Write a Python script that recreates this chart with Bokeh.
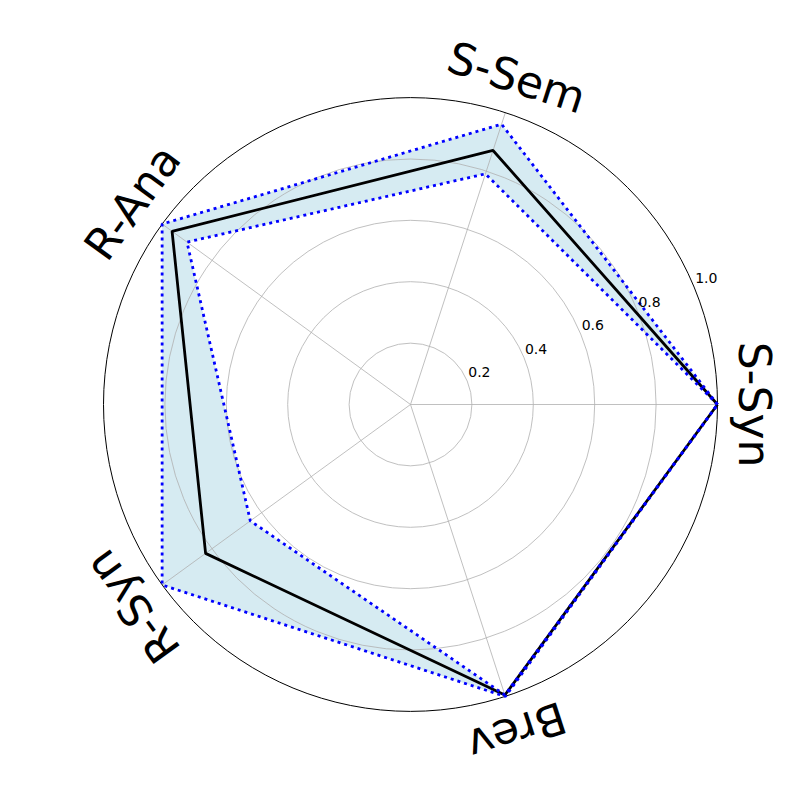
import numpy as np
from bokeh.plotting import figure
from bokeh.models import Range1d
from bokeh.embed import file_html
from bokeh.resources import INLINE
from bokeh.core.properties import value

# ---- data ----
categories = ["S-Syn", "S-Sem", "R-Ana", "R-Syn", "Brev"]
mean_vals = [1.0, 0.87, 0.96, 0.825, 0.995]
lower_vals = [1.0, 0.79, 0.90, 0.645, 0.995]
upper_vals = [1.0, 0.96, 1.0, 1.0, 1.0]
r_ticks = [0.2, 0.4, 0.6, 0.8, 1.0]
r_tick_labels = ["0.2", "0.4", "0.6", "0.8", "1.0"]

# ---- geometry ----
W, H = 784, 784
cx, cy = 410, 404      # centre in canvas px
scale = 307.0          # px per unit radius
n = len(categories)
theta = np.arange(n) * 2 * np.pi / n


def to_xy(vals, closed=True):
    v = np.asarray(vals, dtype=float)
    x = v * np.cos(theta)
    y = v * np.sin(theta)
    if closed:
        x = np.append(x, x[0])
        y = np.append(y, y[0])
    return list(x), list(y)


p = figure(width=W, height=H,
           x_range=Range1d(-cx / scale, (W - cx) / scale),
           y_range=Range1d(-(H - cy) / scale, cy / scale),
           output_backend="svg", toolbar_location=None, min_border=0,
           x_axis_location=None, y_axis_location=None)
p.xgrid.visible = False
p.ygrid.visible = False
p.outline_line_color = None
p.background_fill_color = "white"
p.border_fill_color = "white"

# band between lower and upper
ux, uy = to_xy(upper_vals, closed=False)
lx, ly = to_xy(lower_vals, closed=False)
p.multi_polygons(xs=[[[ux, lx]]], ys=[[[uy, ly]]],
                 fill_color="lightblue", fill_alpha=0.5, line_color=None)

# grid circles
p.circle(x=[0] * 4, y=[0] * 4, radius=r_ticks[:-1], fill_color=None,
         line_color="#b0b0b0", line_width=0.8)
# spokes
for t in theta:
    p.line([0, np.cos(t)], [0, np.sin(t)], line_color="#b0b0b0", line_width=0.8)
# outer circle (spine)
p.circle(x=[0], y=[0], radius=[r_ticks[-1]], fill_color=None,
         line_color="black", line_width=1.0)

# mean line
mx, my = to_xy(mean_vals)
p.line(mx, my, line_color="black", line_width=2.8)

# bounds dotted
ux2, uy2 = to_xy(upper_vals)
lx2, ly2 = to_xy(lower_vals)
p.line(ux2, uy2, line_color="blue", line_width=2.8, line_dash="3 4")
p.line(lx2, ly2, line_color="blue", line_width=2.8, line_dash="3 4")

# radial tick labels at 22.5 deg
ang = np.deg2rad(22.5)
p.text(x=[r * np.cos(ang) for r in r_ticks], y=[r * np.sin(ang) for r in r_ticks],
       text=r_tick_labels, text_align="left", text_baseline="bottom",
       text_font=value("DejaVu Sans"), text_font_size="14px", text_color="black",
       x_offset=1, y_offset=-4)

# category labels
lab_r = 1.12
p.text(x=list(lab_r * np.cos(theta)), y=list(lab_r * np.sin(theta)),
       text=categories, angle=list(theta - np.pi / 2),
       text_align="center", text_baseline="middle",
       text_font=value("DejaVu Sans"), text_font_size="44px", text_color="black")

open("out.html", "w").write(file_html(p, INLINE))
